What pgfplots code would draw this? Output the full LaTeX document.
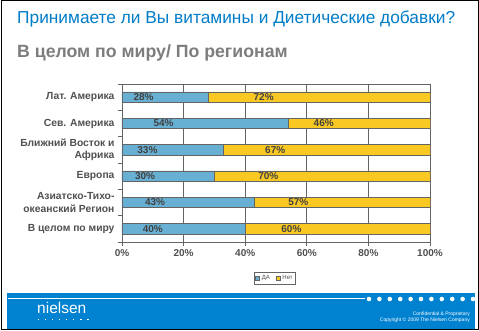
\documentclass[border=0pt]{standalone}
\usepackage{pgfplots}
\usepackage{pgfplotstable}
\pgfplotsset{compat=1.18}
\usepackage{fontspec}
\setmainfont{Liberation Sans}
\definecolor{yesblue}{RGB}{104,176,211}
\definecolor{noyellow}{RGB}{250,200,35}
\definecolor{axgray}{RGB}{100,100,100}
\definecolor{txtgray}{RGB}{80,80,80}
\definecolor{lblgray}{RGB}{65,65,65}
\definecolor{titleblue}{RGB}{0,125,200}
\definecolor{subgray}{RGB}{125,125,125}
\definecolor{footblue}{RGB}{0,130,208}
\pgfplotstableread{
pos yes no
0 40 60
1 43 57
2 30 70
3 33 67
4 54 46
5 28 72
}\datatable
\begin{document}
\begin{tikzpicture}[x=1pt,y=1pt]
\useasboundingbox (0,0) rectangle (479,331);
\fill[white] (0,0) rectangle (479,331);
\draw[black,line width=1pt] (1,1) rectangle (478,330);
\node[anchor=base west, text=titleblue, font=\fontsize{17.3}{19}\selectfont, inner sep=0] at (17,307) {Принимаете ли Вы витамины и Диетические добавки?};
\node[anchor=base west, text=subgray, font=\fontsize{17.7}{19}\selectfont\bfseries, inner sep=0] at (17,273) {В целом по миру/ По регионам};
% footer
\fill[footblue] (7,2) rectangle (475,38);
\draw[white,line width=1pt] (8,32) -- (365,32);
\foreach \i in {0,...,10} \fill[white] (369+10.4*\i,32) circle (2.3);
\node[anchor=base west, text=white, font=\fontsize{15.5}{16}\selectfont, inner sep=0] at (37,17) {nielsen};
\foreach \i in {0,...,7} \fill[white] (37.5+7.1*\i,11) rectangle ++(1.4,1.2);
\node[anchor=base east, text=white, font=\fontsize{5}{6}\selectfont, inner sep=0] at (470,15) {Confidential \& Proprietary};
\node[anchor=base east, text=white, font=\fontsize{5}{6}\selectfont, inner sep=0] at (470,9) {Copyright © 2009 The Nielsen Company};
\begin{axis}[
  at={(122pt,89pt)}, anchor=south west,
  scale only axis, width=308pt, height=158pt,
  xbar stacked, bar width=10.5pt,
  xmin=0, xmax=100, ymin=-0.5, ymax=5.5,
  enlargelimits=false,
  /pgf/number format/assume math mode=true,
  axis line style={axgray, line width=0.8pt},
  xtick={0,20,40,60,80,100},
  xticklabel={\pgfmathprintnumber{\tick}\%},
  xmajorgrids, grid style={axgray, line width=0.8pt},
  ytick={-0.5,0.5,1.5,2.5,3.5,4.5,5.5},
  yticklabels={В целом по миру,{Азиатско-Тихо-\\океанский Регион},Европа,{Ближний Восток и\\Африка},Сев. Америка,Лат. Америка,{}},
  yticklabel style={yshift=13.17pt, align=right, font=\fontsize{10.3}{12.7}\selectfont\bfseries, text=txtgray},
  xticklabel style={font=\fontsize{10}{11}\selectfont\bfseries, text=txtgray},
  tick align=outside, major tick length=4pt,
  tick style={axgray, line width=0.8pt},
  xtick pos=bottom, ytick pos=left,
  nodes near coords={\pgfmathprintnumber{\rawx}\%},
  visualization depends on={rawx \as \rawx},
  every node near coord/.append style={anchor=center, xshift=-0.77pt*\rawx, font=\fontsize{10}{11}\selectfont\bfseries, text=lblgray},
  legend columns=2,
  legend style={at={(0.497,-0.231)}, anchor=center, draw=axgray, line width=0.6pt, font=\fontsize{6}{6.5}\selectfont, text=txtgray, inner sep=1pt, /tikz/every even column/.append style={column sep=4pt}},
  legend image code/.code={\draw[#1,draw=axgray,line width=0.5pt] (0pt,-2pt) rectangle (4pt,2pt);},
]
\addplot[fill=yesblue, draw=axgray, line width=0.8pt] table[x=yes,y=pos] \datatable;
\addlegendentry{ДА}
\addplot[fill=noyellow, draw=axgray, line width=0.8pt] table[x=no,y=pos] \datatable;
\addlegendentry{Нет}
\end{axis}
\end{tikzpicture}
\end{document}
